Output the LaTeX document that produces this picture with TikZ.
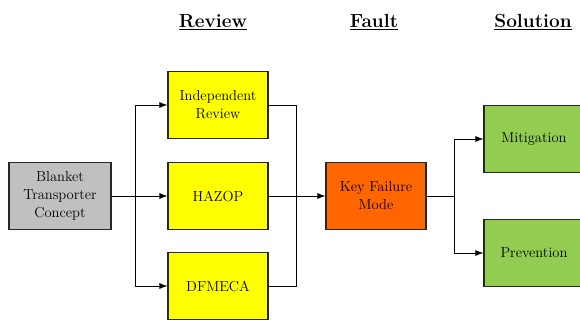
\documentclass[tikz,border=0pt]{standalone}
\usetikzlibrary{arrows.meta}

\definecolor{boxgray}{RGB}{192,192,192}
\definecolor{boxyellow}{RGB}{255,255,0}
\definecolor{boxorange}{RGB}{255,102,0}
\definecolor{boxgreen}{RGB}{146,204,80}

\tikzset{
  block/.style={draw=black!85, line width=1.2pt, minimum width=100pt, minimum height=67pt,
    align=center, font=\rmfamily\fontsize{14.5}{18}\selectfont, inner sep=2pt},
  heading/.style={font=\rmfamily\fontsize{19}{24}\selectfont\bfseries},
  flow/.style={line width=0.8pt, -{Latex[length=8pt,width=6pt]}},
  wire/.style={line width=0.8pt}
}

\newcommand{\headline}[1]{\underline{#1}}

\begin{document}
\begin{tikzpicture}[x=1pt,y=-1pt]
  \useasboundingbox (0,0) rectangle (580,320);
  \clip (0,0) rectangle (580,320);

  % column headings
  \node[heading] (hreview) at (213,22) {\headline{Review}};
  \node[heading] (hfault) at (374,22) {\headline{Fault}};
  \node[heading] (hsolution) at (533,22) {\headline{Solution}};

  % boxes
  \node[block, fill=boxgray, minimum width=102pt] (concept) at (60,196) {Blanket\\Transporter\\Concept};
  \node[block, fill=boxyellow] (indep) at (218,105) {Independent\\Review};
  \node[block, fill=boxyellow] (hazop) at (218,196) {HAZOP};
  \node[block, fill=boxyellow] (dfmeca) at (218,286) {DFMECA};
  \node[block, fill=boxorange] (kfm) at (376,196) {Key Failure\\Mode};
  \node[block, fill=boxgreen] (mitig) at (534,139) {Mitigation};
  \node[block, fill=boxgreen] (prevent) at (534,253) {Prevention};

  % branch and join points
  \coordinate (split) at (135,196);
  \coordinate (join) at (296,196);
  \coordinate (fork) at (454,196);

  \draw[flow] (concept) -- (hazop);
  \draw[flow] (split) |- (indep);
  \draw[flow] (split) |- (dfmeca);

  \draw[wire] (indep) -| (join);
  \draw[wire] (dfmeca) -| (join);
  \draw[flow] (hazop) -- (kfm);

  \draw[wire] (kfm) -- (fork);
  \draw[flow] (fork) |- (mitig);
  \draw[flow] (fork) |- (prevent);
\end{tikzpicture}
\end{document}
